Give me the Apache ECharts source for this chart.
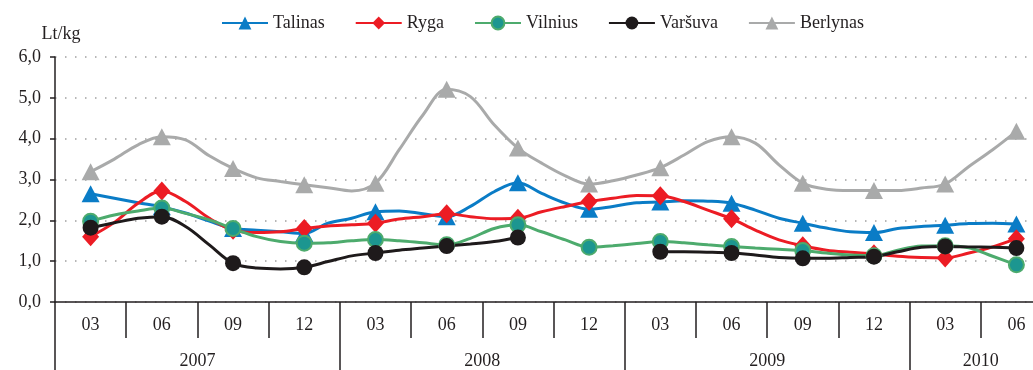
<!DOCTYPE html>
<html>
<head>
<meta charset="utf-8">
<script src="https://cdn.jsdelivr.net/npm/echarts@6/dist/echarts.min.js"></script>
<style>
  html, body { margin: 0; padding: 0; background: #fff; }
  #chart { width: 1033px; height: 370px; }
</style>
</head>
<body>
<div id="chart"></div>
<script>
// Monthly prices, March 2007 – June 2010 (Lt/kg); markers on quarter months
const months = [
  '2007-03','2007-04','2007-05','2007-06','2007-07','2007-08','2007-09','2007-10','2007-11','2007-12',
  '2008-01','2008-02','2008-03','2008-04','2008-05','2008-06','2008-07','2008-08','2008-09','2008-10','2008-11','2008-12',
  '2009-01','2009-02','2009-03','2009-04','2009-05','2009-06','2009-07','2009-08','2009-09','2009-10','2009-11','2009-12',
  '2010-01','2010-02','2010-03','2010-04','2010-05','2010-06'
];

const talinas = [
  2.65, 2.54, 2.43, 2.33, 2.18, 1.98, 1.80, 1.76, 1.72, 1.68,
  1.93, 2.05, 2.21, 2.23, 2.16, 2.09, 2.34, 2.70, 2.92, 2.66, 2.42, 2.27,
  2.34, 2.43, 2.45, 2.48, 2.47, 2.42, 2.25, 2.05, 1.93, 1.81, 1.72, 1.70,
  1.80, 1.85, 1.88, 1.92, 1.93, 1.91
];
const ryga = [
  1.60, 1.95, 2.42, 2.72, 2.46, 2.05, 1.76, 1.70, 1.72, 1.80,
  1.86, 1.89, 1.93, 2.03, 2.09, 2.16, 2.09, 2.04, 2.05, 2.21, 2.34, 2.46,
  2.54, 2.61, 2.60, 2.46, 2.25, 2.04, 1.76, 1.52, 1.38, 1.27, 1.22, 1.18,
  1.12, 1.09, 1.08, 1.20, 1.35, 1.55
];
const vilnius = [
  1.98, 2.13, 2.23, 2.30, 2.17, 2.01, 1.80, 1.60, 1.48, 1.44,
  1.45, 1.50, 1.53, 1.50, 1.45, 1.40, 1.56, 1.80, 1.89, 1.72, 1.52, 1.34,
  1.38, 1.43, 1.48, 1.45, 1.40, 1.36, 1.32, 1.29, 1.26, 1.20, 1.15, 1.13,
  1.27, 1.37, 1.38, 1.33, 1.12, 0.91
];
const varsuva = [
  1.82, 1.94, 2.05, 2.09, 1.85, 1.40, 0.95, 0.83, 0.81, 0.85,
  0.99, 1.13, 1.20, 1.27, 1.32, 1.37, 1.42, 1.48, 1.58, null, null, null,
  null, null, 1.23, 1.23, 1.22, 1.20, 1.15, 1.09, 1.07, 1.07, 1.09, 1.11,
  1.23, 1.34, 1.36, 1.35, 1.34, 1.32
];
const berlynas = [
  3.19, 3.50, 3.85, 4.05, 3.97, 3.58, 3.27, 3.04, 2.95, 2.87,
  2.80, 2.72, 2.91, 3.73, 4.58, 5.21, 5.03, 4.34, 3.77, 3.40, 3.09, 2.89,
  2.97, 3.11, 3.29, 3.60, 3.93, 4.05, 3.89, 3.36, 2.91, 2.76, 2.73, 2.73,
  2.73, 2.79, 2.89, 3.32, 3.73, 4.18
];

// Axis labels: quarter months and their years
const quarterLabels = ['03','06','09','12','03','06','09','12','03','06','09','12','03','06'];
const years = ['2007', '2008', '2009', '2010'];
const quartersPerYear = [4, 4, 4, 2];

const FONT = 'Liberation Serif';
const TEXT = '#231f20';

// month index -> x value; March 2007 sits in the middle of the first quarter cell
const toPoints = (vals) => vals.map((v, i) => {
  const item = { value: [i, v] };
  if (i % 3 !== 0) item.symbol = 'none';
  return item;
});

// year label positions (in quarter-boundary indices) and year boundaries
const yearAt = {};
const yearEdges = new Set();
let start = 0;
years.forEach((y, k) => {
  yearEdges.add(start);
  yearAt[start + quartersPerYear[k] / 2] = y;
  start += quartersPerYear[k];
});
const boundaryIdx = Array.from({ length: quarterLabels.length + 1 }, (_, i) => String(i));

const chart = echarts.init(document.getElementById('chart'), null, { renderer: 'canvas' });

const lineSeries = (name, vals, color, symbol, size, extra) => Object.assign({
  name: name,
  type: 'line',
  xAxisIndex: 0,
  yAxisIndex: 0,
  data: toPoints(vals),
  smooth: 0.35,
  connectNulls: false,
  symbol: symbol,
  symbolSize: size,
  showAllSymbol: true,
  lineStyle: { color: color, width: 3 },
  itemStyle: { color: color },
  emphasis: { disabled: true },
  animation: false
}, extra || {});

chart.setOption({
  backgroundColor: '#fff',
  animation: false,
  textStyle: { fontFamily: FONT, color: TEXT },
  legend: {
    left: 216,
    top: 9,
    itemWidth: 46,
    itemHeight: 16,
    itemGap: 30,
    textStyle: { fontFamily: FONT, fontSize: 18, color: TEXT },
    data: ['Talinas', 'Ryga', 'Vilnius', 'Varšuva', 'Berlynas']
  },
  // the last quarter cell runs past the right edge of the canvas
  grid: { left: 55, top: 57, width: 997, height: 245, outerBoundsMode: 'none', containLabel: false },
  xAxis: [
    {
      // monthly positions, hidden
      type: 'value',
      min: -1.5,
      max: 40.5,
      show: false
    },
    {
      type: 'category',
      position: 'bottom',
      data: quarterLabels,
      boundaryGap: true,
      axisLine: { show: true, onZero: false, lineStyle: { color: '#231f20', width: 1.5 } },
      axisTick: { show: true, length: 36, interval: 0, lineStyle: { color: '#231f20', width: 1.5 } },
      axisLabel: { interval: 0, margin: 14, fontFamily: FONT, fontSize: 18, color: TEXT },
      splitLine: { show: false }
    },
    {
      type: 'category',
      position: 'bottom',
      data: boundaryIdx,
      boundaryGap: false,
      axisLine: { show: false, onZero: false },
      axisTick: {
        show: true,
        length: 72,
        interval: (i) => yearEdges.has(i),
        lineStyle: { color: '#231f20', width: 1.5 }
      },
      axisLabel: {
        interval: 0,
        margin: 50,
        fontFamily: FONT,
        fontSize: 18,
        color: TEXT,
        formatter: (v, i) => yearAt[i] || ''
      },
      splitLine: { show: false }
    }
  ],
  yAxis: {
    type: 'value',
    min: 0,
    max: 6,
    interval: 1,
    position: 'left',
    name: 'Lt/kg',
    nameLocation: 'end',
    nameGap: 14,
    nameTextStyle: { fontFamily: FONT, fontSize: 18, color: TEXT, align: 'center', padding: [0, 0, 0, 12] },
    axisLine: { show: true, onZero: false, lineStyle: { color: '#231f20', width: 1.5 } },
    axisTick: { show: true, length: 5, lineStyle: { color: '#231f20', width: 1.5 } },
    axisLabel: {
      margin: 14,
      fontFamily: FONT,
      fontSize: 18,
      color: TEXT,
      formatter: (v) => v.toFixed(1).replace('.', ',')
    },
    splitLine: { show: true, lineStyle: { color: '#a0a0a0', width: 1.5, type: [1.5, 8.5] } }
  },
  series: [
    lineSeries('Talinas', talinas, '#0a7cc6', 'triangle', [18, 17]),
    lineSeries('Ryga', ryga, '#ec1c24', 'diamond', [17, 19]),
    lineSeries('Vilnius', vilnius, '#4dab6d', 'circle', 15, {
      itemStyle: { color: '#1c9690', borderColor: '#4dab6d', borderWidth: 2 }
    }),
    lineSeries('Varšuva', varsuva, '#1e1a1b', 'circle', 16),
    lineSeries('Berlynas', berlynas, '#a9aaaa', 'triangle', [18, 17])
  ]
});
</script>
</body>
</html>
